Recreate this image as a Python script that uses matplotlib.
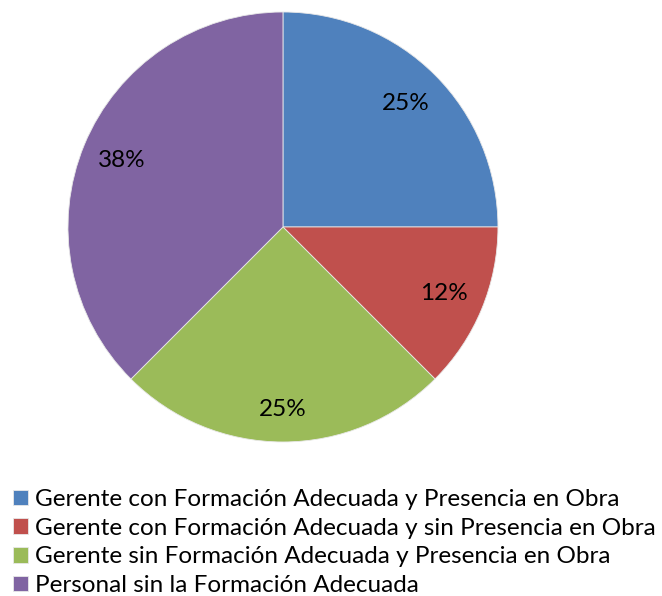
import matplotlib.pyplot as plt

# Share of each category
categories = ["Gerente con Formación Adecuada y Presencia en Obra",
              "Gerente con Formación Adecuada y sin Presencia en Obra",
              "Gerente sin Formación Adecuada y Presencia en Obra",
              "Personal sin la Formación Adecuada"]
values = [25, 12.5, 25, 37.5]
pct_labels = ["25%", "12%", "25%", "38%"]
colors = ["#4F81BD", "#C0504D", "#9BBB59", "#8064A2"]

plt.rcParams['font.family'] = ['Lato', 'DejaVu Sans']

fig = plt.figure(figsize=(6.62, 5.96), dpi=100)
ax = fig.add_axes([0.1027, 0.2584, 0.6495, 0.7215])

wedges, texts = ax.pie(values, colors=colors, startangle=90, counterclock=False,
                       labels=pct_labels, labeldistance=0.81,
                       wedgeprops=dict(linewidth=0.6, edgecolor="#e8e8e8"),
                       textprops=dict(fontsize=17.5, color="black",
                                      ha="center", va="center"))
# the bottom label sits a bit further out in the original
texts[2].set_position((texts[2].get_position()[0], -0.85))
ax.set_xlim(-1, 1)
ax.set_ylim(-1, 1)
ax.set_aspect("equal")

fig.legend(wedges, categories, loc="upper left", bbox_to_anchor=(0.005, 0.196),
           frameon=False, fontsize=17.5, handlelength=0.6, handleheight=0.6,
           handletextpad=0.3, labelspacing=0.32, borderaxespad=0)

fig.savefig("out.png", dpi=100)
